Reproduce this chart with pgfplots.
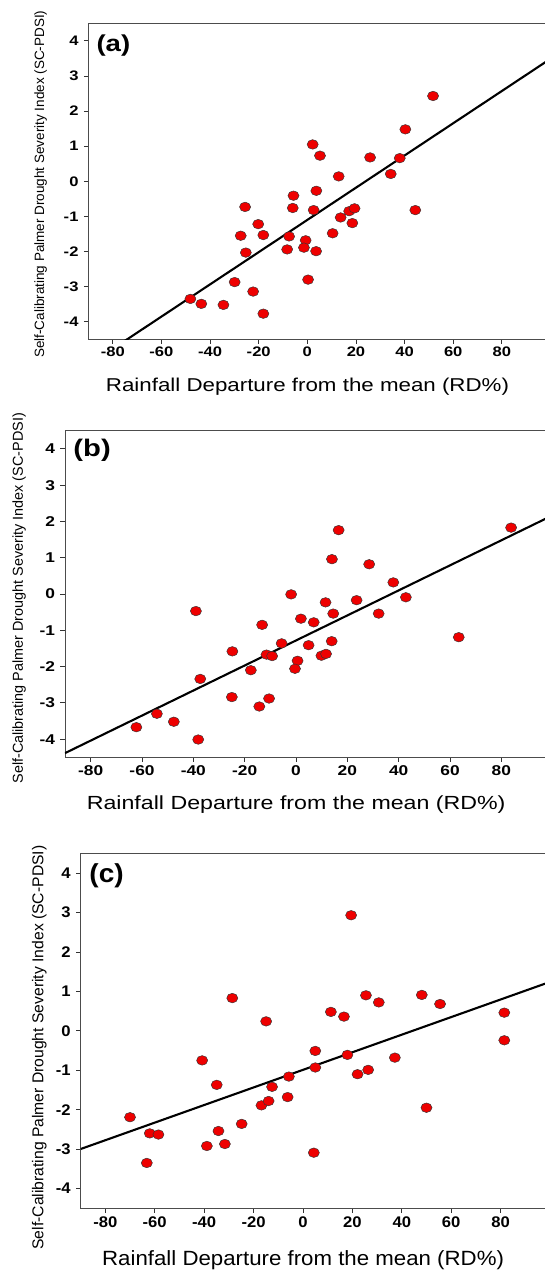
\documentclass[border=0pt]{standalone}
\usepackage{fontspec}
\setmainfont{Liberation Sans}
\newfontfamily\fA[FakeStretch=1.2]{Liberation Sans}
\newfontfamily\fB[FakeStretch=1.22]{Liberation Sans}
\newfontfamily\fC[FakeStretch=1.08]{Liberation Sans}
\newfontfamily\fAb[FakeStretch=1.2]{Liberation Sans Bold}
\newfontfamily\fBb[FakeStretch=1.22]{Liberation Sans Bold}
\newfontfamily\fCb[FakeStretch=1.08]{Liberation Sans Bold}
\usepackage{pgfplots}
\pgfplotsset{compat=1.18}
\definecolor{ptred}{HTML}{EE0000}
\pgfplotsset{
  panel/.style={
    scale only axis, anchor=south west,
    xmin=-90, xmax=100, ymin=-4.5, ymax=4.5,
    xtick={-80,-60,...,80}, ytick={-4,-3,...,4},
    tick align=outside, xtick pos=left, ytick pos=left,
    major tick length=4.5pt,
    axis line style={black!70, line width=0.8pt},
    tick style={black!80, line width=0.8pt},
    /pgf/number format/assume math mode=true,
    clip=true,
  },
  pts/.style={only marks, mark=*, mark size=4.8pt,
    mark options={fill=ptred, draw=black!80, line width=0.45pt, xscale=1.16}},
  reg/.style={black, line width=2.1pt, no marks},
}
\newcommand\tfA{\fAb\fontsize{13.8}{14}\selectfont}
\newcommand\tfB{\fBb\fontsize{14.2}{15}\selectfont}
\newcommand\tfC{\fCb\fontsize{15.4}{16}\selectfont}
\begin{document}
\begin{tikzpicture}
\useasboundingbox (0,0) rectangle (545pt,-1270pt);
% ---------------- (a)
\begin{axis}[panel, at={(88.5pt,-339.3pt)}, width=462pt, height=316pt,
  xticklabel style={font=\tfA}, yticklabel style={font=\tfA, xshift=-2pt},
  xticklabel={\tfA\pgfmathprintnumber{\tick}},
  yticklabel={\tfA\pgfmathprintnumber{\tick}},
  xlabel={Rainfall Departure from the mean (RD\%)},
  xlabel style={font=\fA\fontsize{18.6}{20}\selectfont, at={(axis description cs:0.474,-0.150)}, anchor=center},
  ylabel={Self-Calibrating Palmer Drought Severity Index (SC-PDSI)},
  ylabel style={font=\fontsize{13.5}{14}\selectfont, at={(axis description cs:-0.1035,0.491)}, anchor=center},
]
\addplot[reg] coordinates {(-90,-5.23) (100,3.49)};
\addplot[pts] coordinates {
(-48.1,-3.35) (-43.6,-3.49) (-34.5,-3.52) (-18.1,-3.77) (-29.9,-2.87)
(-22.3,-3.14) (-25.6,-0.73) (-20.2,-1.22) (-27.4,-1.55) (-18.1,-1.53)
(-25.3,-2.03) (-5.7,-0.41) (-6.0,-0.76) (-7.5,-1.57) (-8.3,-1.94)
(-0.7,-1.68) (-1.4,-1.89) (3.6,-1.99) (0.3,-2.80) (2.2,1.05)
(5.2,0.73) (3.7,-0.27) (2.6,-0.82) (12.9,0.14) (10.4,-1.48)
(13.7,-1.03) (17.2,-0.85) (19.4,-0.77) (18.5,-1.19) (25.8,0.68)
(34.3,0.21) (38.0,0.66) (40.3,1.48) (44.4,-0.82) (51.7,2.43)
};
\node[anchor=west, font=\fAb\fontsize{23}{24}\selectfont, inner sep=0pt] at (rel axis cs:0.017,0.93) {(a)};
\end{axis}
% ---------------- (b)
\begin{axis}[panel, at={(65pt,-757.3pt)}, width=487.7pt, height=326.6pt,
  xticklabel style={font=\tfB}, yticklabel style={font=\tfB, xshift=-2pt},
  xticklabel={\tfB\pgfmathprintnumber{\tick}},
  yticklabel={\tfB\pgfmathprintnumber{\tick}},
  xlabel={Rainfall Departure from the mean (RD\%)},
  xlabel style={font=\fB\fontsize{19}{20}\selectfont, at={(axis description cs:0.474,-0.146)}, anchor=center},
  ylabel={Self-Calibrating Palmer Drought Severity Index (SC-PDSI)},
  ylabel style={font=\fontsize{14.4}{15}\selectfont, at={(axis description cs:-0.0939,0.487)}, anchor=center},
]
\addplot[reg] coordinates {(-90,-4.385) (100,2.17)};
\addplot[pts] coordinates {
(-62.2,-3.67) (-54.2,-3.30) (-47.6,-3.52) (-38.1,-4.01) (-39.0,-0.47)
(-37.3,-2.34) (-24.8,-1.58) (-25.0,-2.84) (-17.6,-2.10) (-14.3,-3.10)
(-10.5,-2.88) (-13.2,-0.85) (-11.5,-1.67) (-9.3,-1.71) (-5.6,-1.36)
(-1.9,-0.01) (0.6,-1.84) (-0.4,-2.06) (1.9,-0.68) (6.9,-0.78)
(4.9,-1.41) (9.9,-1.70) (11.7,-1.65) (11.5,-0.23) (14.0,0.96)
(14.5,-0.54) (13.9,-1.30) (16.6,1.76) (23.6,-0.17) (28.5,0.82)
(32.2,-0.54) (37.9,0.32) (42.8,-0.09) (63.4,-1.19) (83.8,1.83)
};
\node[anchor=west, font=\fBb\fontsize{24}{25}\selectfont, inner sep=0pt] at (rel axis cs:0.017,0.941) {(b)};
\end{axis}
% ---------------- (c)
\begin{axis}[panel, at={(80.6pt,-1208.3pt)}, width=469.4pt, height=355pt,
  xticklabel style={font=\tfC}, yticklabel style={font=\tfC, xshift=-2pt},
  xticklabel={\tfC\pgfmathprintnumber{\tick}},
  yticklabel={\tfC\pgfmathprintnumber{\tick}},
  xlabel={Rainfall Departure from the mean (RD\%)},
  xlabel style={font=\fC\fontsize{20.6}{22}\selectfont, at={(axis description cs:0.474,-0.1456)}, anchor=center},
  ylabel={Self-Calibrating Palmer Drought Severity Index (SC-PDSI)},
  ylabel style={font=\fontsize{15.7}{16}\selectfont, at={(axis description cs:-0.0882,0.453)}, anchor=center},
]
\addplot[reg] coordinates {(-90,-2.997) (100,1.24)};
\addplot[pts] coordinates {
(-70.0,-2.19) (-62.0,-2.60) (-58.5,-2.63) (-63.2,-3.35) (-40.8,-0.75)
(-38.9,-2.92) (-34.9,-1.37) (-34.2,-2.54) (-31.6,-2.87) (-28.6,0.83)
(-24.8,-2.36) (-16.8,-1.89) (-14.9,0.24) (-13.9,-1.78) (-12.5,-1.42)
(-5.7,-1.16) (-6.2,-1.68) (5.0,-0.51) (5.0,-0.93) (4.4,-3.09)
(11.3,0.48) (16.6,0.36) (18.0,-0.61) (19.5,2.93) (22.1,-1.10)
(25.5,0.90) (26.4,-0.99) (30.7,0.72) (37.2,-0.68) (48.1,0.91)
(50.0,-1.95) (55.5,0.68) (81.5,0.46) (81.5,-0.24)
};
\node[anchor=west, font=\fCb\fontsize{26}{27}\selectfont, inner sep=0pt] at (rel axis cs:0.0185,0.937) {(c)};
\end{axis}
\end{tikzpicture}
\end{document}
